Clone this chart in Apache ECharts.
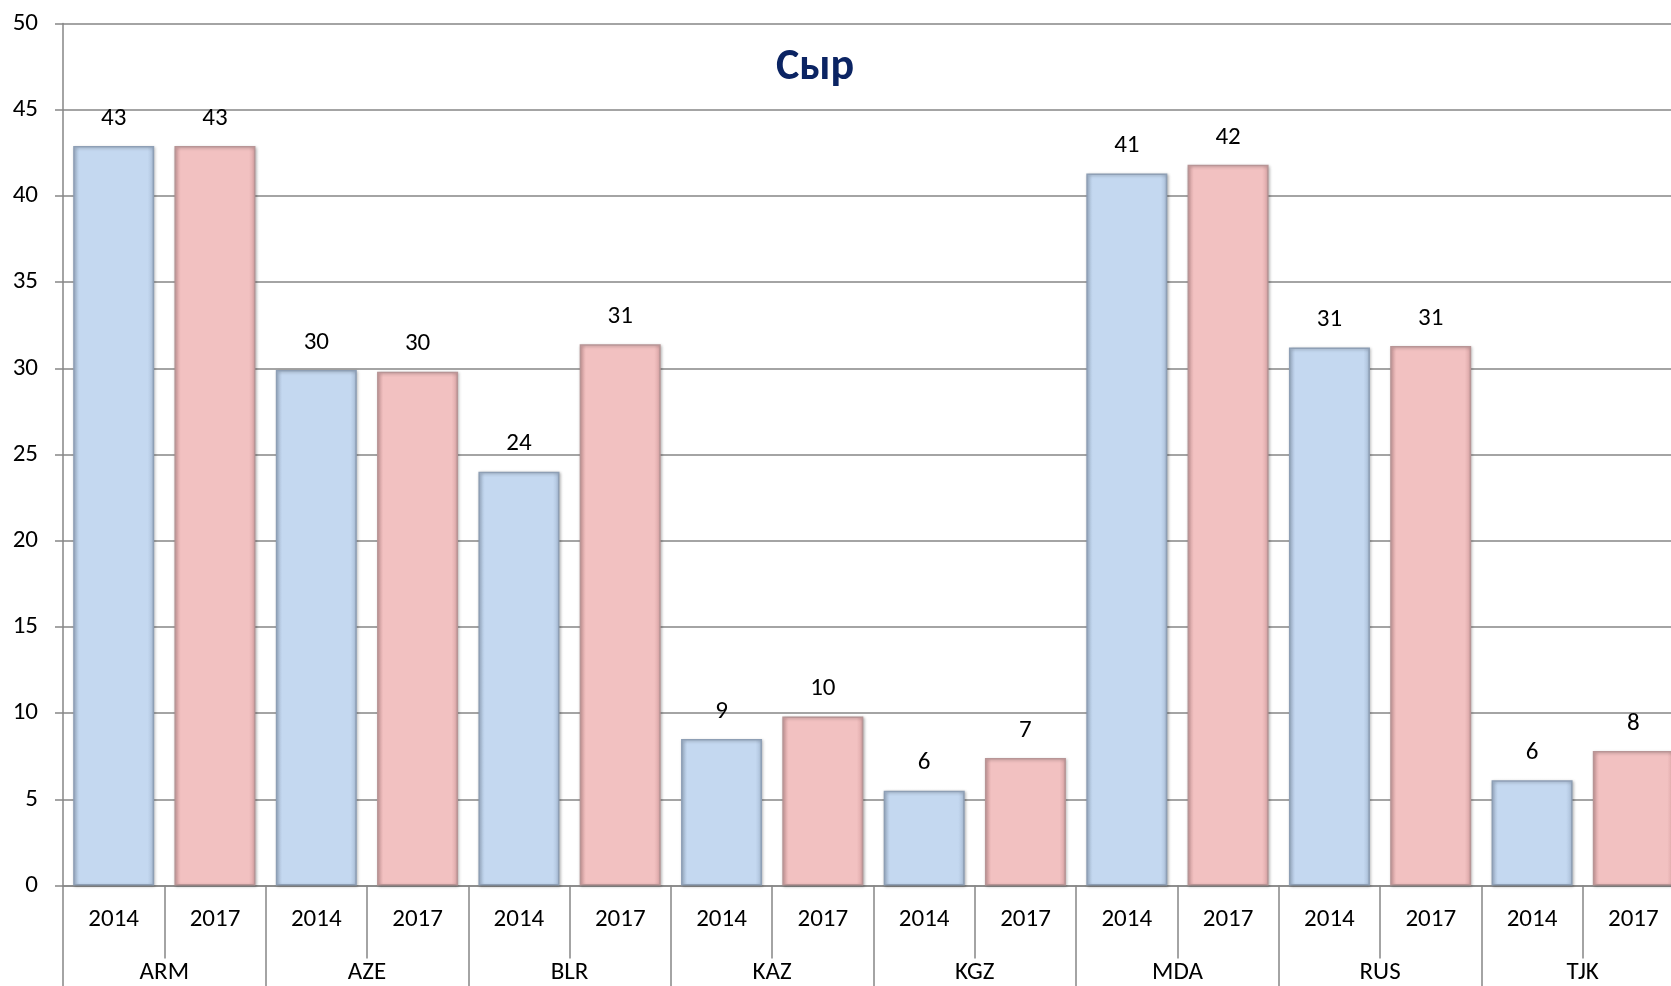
<!DOCTYPE html>
<html>
<head>
<meta charset="utf-8">
<script src="https://cdn.jsdelivr.net/npm/echarts@6/dist/echarts.min.js"></script>
<style>
html,body{margin:0;padding:0;background:#fff;overflow:hidden;}
#c{width:1671px;height:986px;}
</style>
</head>
<body>
<div id="c"></div>
<script>
const countries = ['ARM','AZE','BLR','KAZ','KGZ','MDA','RUS','TJK'];
const years = ['2014','2017'];
const values2014 = [42.9, 29.9, 24.0, 8.5, 5.5, 41.3, 31.2, 6.1];
const values2017 = [42.9, 29.8, 31.4, 9.8, 7.4, 41.8, 31.3, 7.8];
const yTicks = {min: 0, max: 50, interval: 5};
const titleText = 'Сыр';

const FONT = 'Carlito, Lato, "Open Sans", sans-serif';
const yearCats = [];
countries.forEach(() => years.forEach(y => yearCats.push(y)));

const chart = echarts.init(document.getElementById('c'), null, {renderer: 'canvas'});

function barStyle(fill, edge, border) {
  return {
    color: new echarts.graphic.LinearGradient(0, 0, 1, 0, [
      {offset: 0, color: edge},
      {offset: 0.08, color: fill},
      {offset: 0.92, color: fill},
      {offset: 1, color: edge}
    ]),
    borderColor: border,
    borderWidth: 1.5,
    shadowColor: 'rgba(0,0,0,0.25)',
    shadowBlur: 3,
    shadowOffsetX: 1,
    shadowOffsetY: 1
  };
}

const labelCfg = {
  show: true,
  position: 'top',
  distance: 15,
  color: '#000',
  fontSize: 25,
  fontFamily: FONT,
  formatter: p => Math.round(p.value)
};

chart.setOption({
  backgroundColor: '#fff',
  animation: false,
  title: {
    text: titleText,
    left: 771,
    top: 41,
    textStyle: {color: '#0b2463', fontSize: 44, fontWeight: 'bold', fontFamily: FONT}
  },
  grid: {left: 63, width: 1621, top: 23.5, bottom: 100.5, containLabel: false, outerBoundsMode: 'none'},
  xAxis: [
    {
      type: 'category',
      data: countries,
      position: 'bottom',
      axisLine: {show: true, lineStyle: {color: '#868686', width: 1.5}},
      axisTick: {show: true, length: 110, interval: 0, alignWithLabel: false, lineStyle: {color: '#868686', width: 1.5}},
      axisLabel: {margin: 75, fontSize: 25, color: '#000', fontFamily: FONT, interval: 0},
      splitLine: {show: false}
    },
    {
      type: 'category',
      data: yearCats,
      position: 'bottom',
      axisLine: {show: false},
      axisTick: {show: true, length: 73, interval: 0, lineStyle: {color: '#868686', width: 1.5}},
      axisLabel: {margin: 22, fontSize: 25, color: '#000', fontFamily: FONT, interval: 0},
      splitLine: {show: false}
    }
  ],
  yAxis: {
    type: 'value',
    min: yTicks.min,
    max: yTicks.max,
    interval: yTicks.interval,
    axisLine: {show: true, lineStyle: {color: '#868686', width: 1.5}},
    axisTick: {show: true, length: 8, lineStyle: {color: '#868686', width: 1.5}},
    axisLabel: {margin: 25, fontSize: 25, color: '#000', fontFamily: FONT},
    splitLine: {show: true, lineStyle: {color: '#868686', width: 1.5}}
  },
  series: [
    {
      name: years[0],
      type: 'bar',
      xAxisIndex: 0,
      data: values2014,
      barWidth: 81,
      barGap: '25%',
      itemStyle: barStyle('#c4d8f0', '#a9bdd6', '#8e9fb5'),
      label: labelCfg
    },
    {
      name: years[1],
      type: 'bar',
      xAxisIndex: 0,
      data: values2017,
      barWidth: 81,
      barGap: '25%',
      itemStyle: barStyle('#f2c1c1', '#d9a4a5', '#b89596'),
      label: labelCfg
    }
  ]
});
</script>
</body>
</html>
